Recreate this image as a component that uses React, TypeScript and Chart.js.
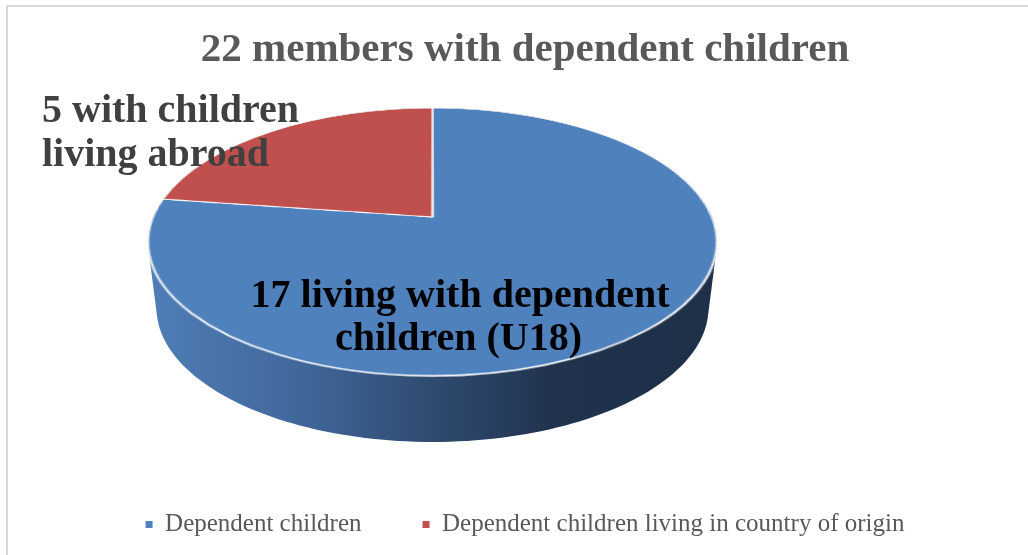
import React, { useEffect, useRef } from 'react';
import { Chart, registerables } from 'chart.js';

Chart.register(...registerables);

// ---------- data ----------
const TITLE = '22 members with dependent children';
const CATEGORIES = ['Dependent children', 'Dependent children living in country of origin'];
const VALUES = [17, 5];
const COLORS = ['#4F81BD', '#C0504D'];
const LABEL_BLUE = [`${VALUES[0]} living with dependent`, 'children (U18)'];
const LABEL_RED = [`${VALUES[1]} with children`, 'living abroad'];

const FONT = '"Liberation Serif", "Times New Roman", serif';

// view parameters of the tilted (perspective) 3D pie
const VIEW = { cx: 432.5, cy: 217, a: 279.5, b: 129.3, c: 0.1866, depth: 66, shrink: 0.97 };

function projectTop(cosT: number, sinT: number): [number, number] {
  const w = 1 - VIEW.c * sinT;
  return [VIEW.cx + (VIEW.a * cosT) / w, VIEW.cy + (VIEW.b * sinT) / w];
}

function convexHull(points: [number, number][]): [number, number][] {
  const pts = points.slice().sort((p, q) => (p[0] - q[0]) || (p[1] - q[1]));
  const cross = (o: number[], a: number[], b: number[]) =>
    (a[0] - o[0]) * (b[1] - o[1]) - (a[1] - o[1]) * (b[0] - o[0]);
  const lower: [number, number][] = [];
  for (const p of pts) {
    while (lower.length >= 2 && cross(lower[lower.length - 2], lower[lower.length - 1], p) <= 0) lower.pop();
    lower.push(p);
  }
  const upper: [number, number][] = [];
  for (let i = pts.length - 1; i >= 0; i--) {
    const p = pts[i];
    while (upper.length >= 2 && cross(upper[upper.length - 2], upper[upper.length - 1], p) <= 0) upper.pop();
    upper.push(p);
  }
  upper.pop();
  lower.pop();
  return lower.concat(upper);
}

const pie3dPlugin = {
  id: 'pie3d',
  beforeDraw(chart: any) {
    const ctx = chart.ctx;
    ctx.save();
    ctx.fillStyle = '#d9d9d9';
    ctx.fillRect(6, 5, 1022, 2);
    ctx.fillRect(6, 5, 2, 550);
    ctx.restore();
  },
  afterDatasetsDraw(chart: any) {
    const meta = chart.getDatasetMeta(0);
    const arc0 = meta.data[0] as any;
    const ax = arc0.x;
    const ay = arc0.y;
    const R = arc0.outerRadius;
    const ctx = chart.ctx as CanvasRenderingContext2D;
    const canvas = chart.canvas as HTMLCanvasElement;
    const dpr = chart.currentDevicePixelRatio || 1;

    // copy of the flat pie drawn by Chart.js
    const off = document.createElement('canvas');
    off.width = canvas.width;
    off.height = canvas.height;
    (off.getContext('2d') as CanvasRenderingContext2D).drawImage(canvas, 0, 0);

    const pad = 4;
    ctx.save();
    ctx.clearRect(ax - R - pad, ay - R - pad, 2 * (R + pad), 2 * (R + pad));

    // side wall (extrusion)
    const N = 240;
    const pts: [number, number][] = [];
    for (let i = 0; i < N; i++) {
      const t = (i / N) * Math.PI * 2;
      const [x, y] = projectTop(Math.cos(t), Math.sin(t));
      pts.push([x, y]);
      pts.push([VIEW.cx + (x - VIEW.cx) * VIEW.shrink, y + VIEW.depth]);
    }
    const hull = convexHull(pts);
    const rxMax = VIEW.a / Math.sqrt(1 - VIEW.c * VIEW.c);
    const g = ctx.createLinearGradient(VIEW.cx - rxMax, 0, VIEW.cx + rxMax, 0);
    g.addColorStop(0, '#4f7eb7');
    g.addColorStop(0.25, '#42699d');
    g.addColorStop(0.5, '#2f4b71');
    g.addColorStop(0.72, '#20324c');
    g.addColorStop(1, '#1f2f48');
    ctx.beginPath();
    hull.forEach((p, i) => (i === 0 ? ctx.moveTo(p[0], p[1]) : ctx.lineTo(p[0], p[1])));
    ctx.closePath();
    ctx.fillStyle = g;
    ctx.fill();

    // top face: perspective warp of the library-drawn pie, row by row
    ctx.imageSmoothingEnabled = true;
    (ctx as any).imageSmoothingQuality = 'high';
    const nOf = (y: number) => {
      const d = y - VIEW.cy;
      return d / (VIEW.b + VIEW.c * d);
    };
    const yTop = Math.floor(VIEW.cy - VIEW.b / (1 + VIEW.c)) - 3;
    const yBot = Math.ceil(VIEW.cy + VIEW.b / (1 - VIEW.c)) + 3;
    const sx = ax - R - pad;
    const sw = 2 * (R + pad);
    for (let y = yTop; y < yBot; y++) {
      const n0 = nOf(y);
      const n1 = nOf(y + 1);
      const nm = nOf(y + 0.5);
      let s0 = ay + n0 * R;
      let s1 = ay + n1 * R;
      if (s1 < ay - R - pad || s0 > ay + R + pad) continue;
      s0 = Math.max(s0, ay - R - pad);
      s1 = Math.min(s1, ay + R + pad);
      if (s1 - s0 <= 0.01) continue;
      const w = 1 - VIEW.c * nm;
      const sc = VIEW.a / (R * w);
      ctx.drawImage(off, sx * dpr, s0 * dpr, sw * dpr, (s1 - s0) * dpr, VIEW.cx - sc * (R + pad), y, sw * sc, 1);
    }
    ctx.restore();
  },
  afterDraw(chart: any) {
    const ctx = chart.ctx as CanvasRenderingContext2D;
    ctx.save();
    ctx.font = `bold 40px ${FONT}`;
    ctx.textBaseline = 'alphabetic';
    ctx.fillStyle = '#404040';
    ctx.textAlign = 'left';
    ctx.fillText(LABEL_RED[0], VIEW.cx - 390.5, VIEW.cy - 95);
    ctx.fillText(LABEL_RED[1], VIEW.cx - 390.5, VIEW.cy - 51);
    ctx.fillStyle = '#000000';
    ctx.textAlign = 'center';
    ctx.fillText(LABEL_BLUE[0], VIEW.cx + 27.5, VIEW.cy + 90);
    ctx.fillText(LABEL_BLUE[1], VIEW.cx + 26, VIEW.cy + 133);
    ctx.restore();
  },
};

export default function App() {
  const ref = useRef<HTMLCanvasElement | null>(null);
  useEffect(() => {
    if (!ref.current) return;
    const baseLabels = (Chart as any).overrides.pie.plugins.legend.labels.generateLabels;
    const chart = new Chart(ref.current, {
      type: 'pie',
      data: {
        labels: CATEGORIES,
        datasets: [
          {
            data: VALUES,
            backgroundColor: COLORS,
            borderColor: '#ffffff',
            borderWidth: 1.4,
          },
        ],
      },
      options: {
        responsive: false,
        animation: false,
        layout: { padding: { left: 22, right: 0, top: 0, bottom: 8 } },
        plugins: {
          tooltip: { enabled: false },
          title: {
            display: true,
            text: TITLE,
            color: '#595959',
            font: { family: FONT, size: 41, weight: 'bold' },
            padding: { top: 26, bottom: 0 },
          },
          legend: {
            display: true,
            position: 'bottom',
            labels: {
              color: '#595959',
              font: { family: FONT, size: 25 },
              boxWidth: 7,
              boxHeight: 7,
              padding: 61,
              generateLabels: (c: any) =>
                baseLabels(c).map((l: any) => ({ ...l, lineWidth: 0, strokeStyle: 'rgba(0,0,0,0)' })),
            },
          },
        },
      },
      plugins: [pie3dPlugin],
    } as any);
    return () => chart.destroy();
  }, []);
  return (
    <div style={{ position: 'absolute', left: 0, top: 0, width: 1028, height: 555, background: '#ffffff' }}>
      <canvas ref={ref} width={1028} height={555} style={{ width: 1028, height: 555, display: 'block' }} />
    </div>
  );
}
